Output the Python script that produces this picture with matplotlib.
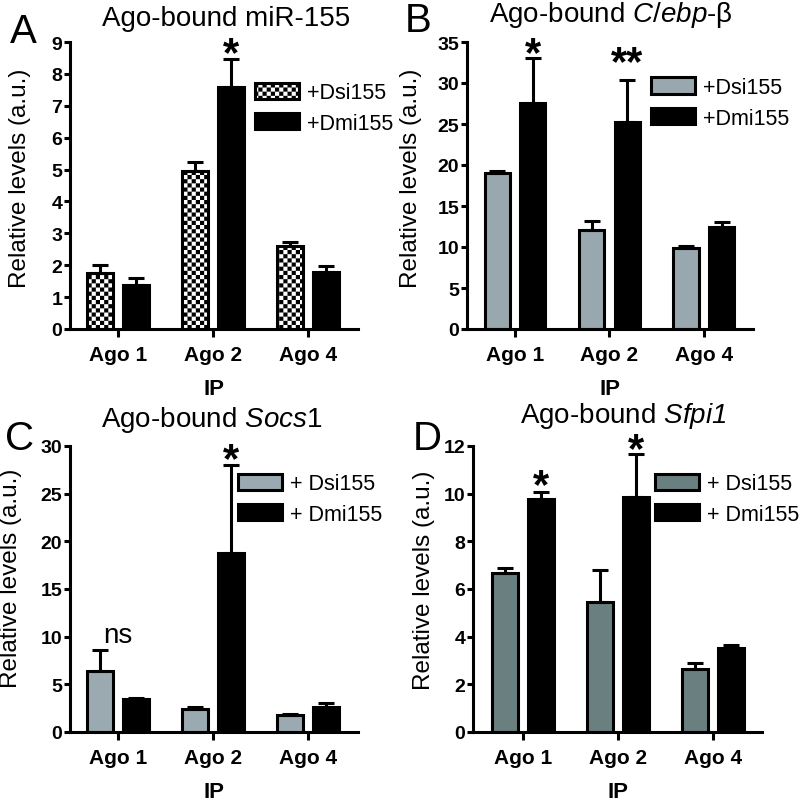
import warnings
warnings.filterwarnings('ignore')
import numpy as np
import matplotlib
matplotlib.use('Agg')
import matplotlib.pyplot as plt
import matplotlib.hatch as mhatch
from matplotlib.path import Path

# ---------------- data ----------------
groups = ['Ago 1', 'Ago 2', 'Ago 4']

A_dsi = [1.76, 4.95, 2.60]
A_dsi_err = [0.25, 0.28, 0.14]
A_dmi = [1.39, 7.58, 1.80]
A_dmi_err = [0.22, 0.89, 0.16]

B_dsi = [19.0, 12.1, 9.85]
B_dsi_err = [0.25, 1.1, 0.25]
B_dmi = [27.55, 25.2, 12.4]
B_dmi_err = [5.55, 5.2, 0.6]

C_dsi = [6.4, 2.38, 1.78]
C_dsi_err = [2.2, 0.22, 0.07]
C_dmi = [3.5, 18.74, 2.66]
C_dmi_err = [0.1, 9.3, 0.34]

D_dsi = [6.66, 5.47, 2.66]
D_dsi_err = [0.24, 1.33, 0.22]
D_dmi = [9.79, 9.86, 3.51]
D_dmi_err = [0.28, 1.79, 0.13]

# ---------------- checkerboard hatch ----------------
class CheckerHatch(mhatch.HatchPatternBase):
    def __init__(self, hatch, density):
        n = int(hatch.count('c') * density)
        n -= n % 2
        self.n = n
        self.num_vertices = (n * n // 2) * 5 if n else 0

    def set_vertices_and_codes(self, vertices, codes):
        n = self.n
        s = 1.0 / n
        k = 0
        for i in range(n):
            for j in range(n):
                if (i + j) % 2 == 0:
                    x0, y0 = i * s, j * s
                    vertices[k:k + 5] = [[x0, y0], [x0 + s, y0], [x0 + s, y0 + s],
                                         [x0, y0 + s], [x0, y0]]
                    codes[k] = Path.MOVETO
                    codes[k + 1:k + 4] = Path.LINETO
                    codes[k + 4] = Path.CLOSEPOLY
                    k += 5

mhatch._hatch_types.append(CheckerHatch)

plt.rcParams['font.family'] = ['Liberation Sans', 'DejaVu Sans']
plt.rcParams['mathtext.fontset'] = 'custom'
plt.rcParams['mathtext.rm'] = 'Liberation Sans'
plt.rcParams['mathtext.it'] = 'Liberation Sans:italic'
plt.rcParams['mathtext.sf'] = 'Liberation Sans:italic'
plt.rcParams['hatch.linewidth'] = 0.01

W, H = 800, 804
fig = plt.figure(figsize=(W / 100, H / 100), dpi=100)


def rect(l, t, r, b):
    return [l / W, 1 - b / H, (r - l) / W, (b - t) / H]


def panel(box, xlim, ylim, yticks, dsi, dsi_err, dmi, dmi_err, dsi_color, hatch,
          labels, leg_xy, ylab_xy, stars):
    ax = fig.add_axes(rect(*box))
    x = np.arange(len(groups))
    w = 0.265
    off = 0.19
    lw = 2.2
    b1 = ax.bar(x - off, dsi, w, color=dsi_color, edgecolor='black', linewidth=lw,
                hatch=hatch, zorder=2, label=labels[0])
    b2 = ax.bar(x + off, dmi, w, color='black', edgecolor='black', linewidth=lw,
                zorder=2, label=labels[1])
    ax.errorbar(x - off, dsi, yerr=[np.zeros(len(dsi)), dsi_err], fmt='none',
                ecolor='black', elinewidth=lw, capsize=5.5, capthick=lw, zorder=3)
    ax.errorbar(x + off, dmi, yerr=[np.zeros(len(dmi)), dmi_err], fmt='none',
                ecolor='black', elinewidth=lw, capsize=5.5, capthick=lw, zorder=3)
    ax.set_xlim(*xlim)
    ax.set_ylim(*ylim)
    ax.set_yticks(yticks)
    ax.set_xticks(x)
    ax.set_xticklabels(groups, fontsize=15, fontweight='bold')
    for t in ax.get_yticklabels():
        t.set_fontweight('bold')
        t.set_fontsize(14)
    for s in ['top', 'right']:
        ax.spines[s].set_visible(False)
    for s in ['left', 'bottom']:
        ax.spines[s].set_linewidth(lw)
    ax.tick_params(axis='y', direction='out', length=4, width=lw, pad=1.5)
    ax.tick_params(axis='x', direction='out', length=5.5, width=lw, pad=6)
    ax.set_xlabel('IP', fontsize=16, fontweight='bold', labelpad=10)
    ax.set_ylabel('Relative levels (a.u.)', fontsize=17.5)
    ax.yaxis.set_label_coords(*ylab_xy)
    ax.legend(handles=[b1, b2], labels=labels, loc='upper left',
              bbox_to_anchor=leg_xy, bbox_transform=ax.transAxes, frameon=False,
              borderpad=0, borderaxespad=0, handlelength=2.05, handleheight=0.78,
              handletextpad=0.35, labelspacing=0.45, fontsize=15.5)
    allv = [dsi, dmi]
    alle = [dsi_err, dmi_err]
    for (series, gi, txt, dy) in stars:
        xs = gi + (off if series == 1 else -off)
        top = allv[series][gi] + alle[series][gi]
        ax.annotate(txt, xy=(xs, top), xytext=(0, dy), textcoords='offset points',
                    ha='center', va='center', fontsize=30, fontweight='bold')
    return ax


# Panel A
axA = panel((70, 43, 358, 330), (-0.505, 2.526), (0, 9), range(0, 10),
            A_dsi, A_dsi_err, A_dmi, A_dmi_err, 'white', 'cccc',
            ['+Dsi155', '+Dmi155'], (0.642, 0.860), (-0.135, 0.53),
            [(1, 1, '*', 3.7)])
# Panel B
axB = panel((467, 43, 753, 330), (-0.508, 2.519), (0, 35), range(0, 36, 5),
            B_dsi, B_dsi_err, B_dmi, B_dmi_err, '#98a8ae', None,
            ['+Dsi155', '+Dmi155'], (0.643, 0.878), (-0.157, 0.53),
            [(1, 0, '*', 2.5), (1, 1, '**', 12)])
# Panel C
axC = panel((70, 447, 358, 733), (-0.505, 2.526), (0, 30), range(0, 31, 5),
            C_dsi, C_dsi_err, C_dmi, C_dmi_err, '#9aaab0', None,
            ['+ Dsi155', '+ Dmi155'], (0.583, 0.905), (-0.167, 0.54),
            [(1, 1, '*', 3.4)])
axC.text(0, 9.4, 'ns', ha='center', va='baseline', fontsize=20)
# Panel D
axD = panel((473, 447, 762, 733), (-0.526, 2.516), (0, 12), range(0, 13, 2),
            D_dsi, D_dsi_err, D_dmi, D_dmi_err, '#6a7f80', None,
            ['+ Dsi155', '+ Dmi155'], (0.630, 0.905), (-0.131, 0.535),
            [(1, 0, '*', 4), (1, 1, '*', 3)])

# Titles
titles = [('Ago-bound miR-155', 226, 26),
          ('Ago-bound $\\mathit{C/ebp}$-β', 611, 22),
          ('Ago-bound $\\mathit{Socs}$1', 212, 427),
          ('Ago-bound $\\mathsf{Sfpi1}$', 623, 423)]
for txt, px, py in titles:
    fig.text(px / W, 1 - py / H, txt, ha='center', va='baseline', fontsize=20)

letters = [('A', 10, 43), ('B', 405, 32), ('C', 5, 450), ('D', 413, 450)]
for txt, px, py in letters:
    fig.text(px / W, 1 - py / H, txt, ha='left', va='baseline', fontsize=29)

fig.savefig('out.png', dpi=100)
